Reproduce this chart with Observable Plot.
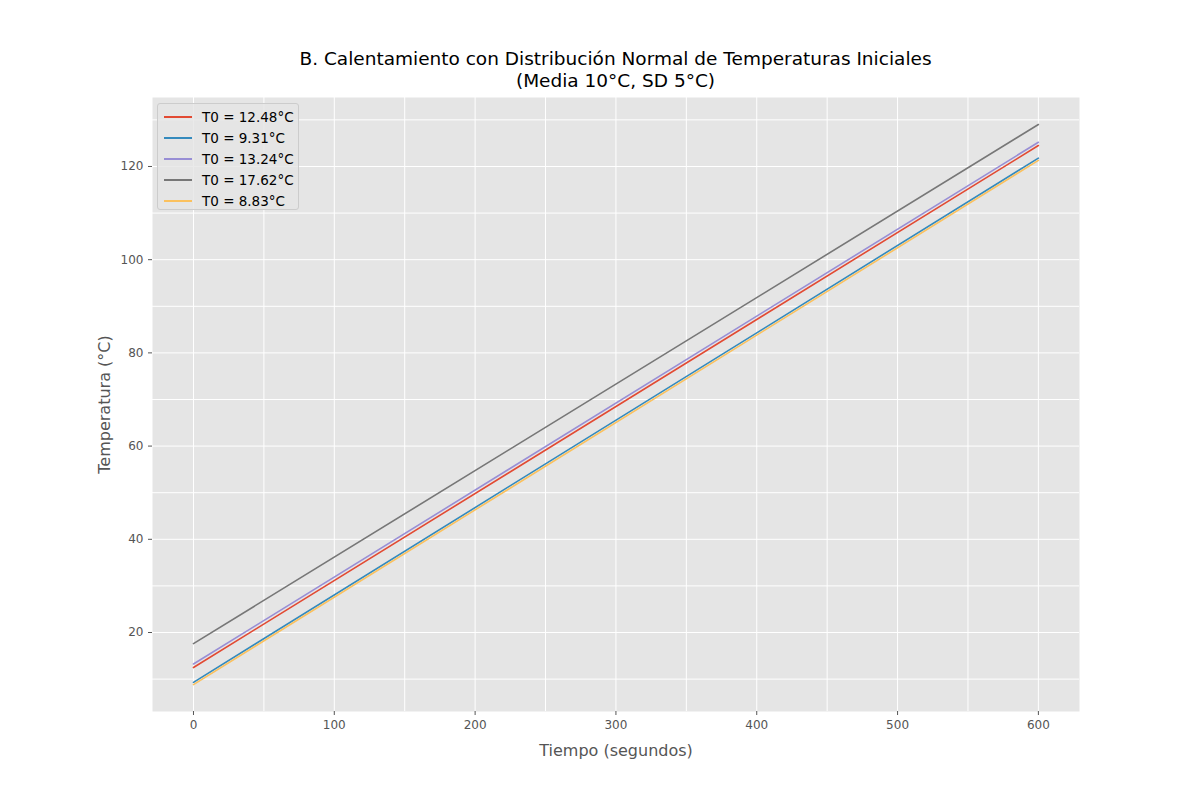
<!DOCTYPE html>
<html><head><meta charset="utf-8">
<script src="https://cdn.jsdelivr.net/npm/d3@7"></script>
<script src="https://cdn.jsdelivr.net/npm/@observablehq/plot@0.6"></script>
<style>
body{margin:0;background:#fff;font-family:"DejaVu Sans",sans-serif;}
#wrap{position:relative;width:1200px;height:800px;}
#title{position:absolute;left:152px;width:927px;top:48px;text-align:center;font-size:18.5px;line-height:22px;color:#000;}
#chart{position:absolute;left:0;top:97px;}
#legend{position:absolute;left:157px;top:103px;width:142px;height:107px;background:rgba(229,229,229,0.8);border:1px solid #ccc;border-radius:3px;box-sizing:border-box;font-size:13.5px;padding-top:3px;}
.li{height:20.8px;display:flex;align-items:center;}
.sw{width:28px;height:2px;margin-left:6px;margin-right:10px;}
</style></head><body>
<div id="wrap">
<div id="title">B. Calentamiento con Distribución Normal de Temperaturas Iniciales<br>(Media 10°C, SD 5°C)</div>
<div id="chart"></div>
<div id="legend"></div>
</div>
<script>
const labels = ["T0 = 12.48°C","T0 = 9.31°C","T0 = 13.24°C","T0 = 17.62°C","T0 = 8.83°C"];
const colors = ["#E24A33","#348ABD","#988ED5","#777777","#FBC15E"];
const times = [0, 600];
const startVals = [12.48, 9.31, 13.24, 17.62, 8.83];
const endVals = [124.5, 121.8, 125.2, 129.0, 121.3];

const data = [];
labels.forEach((l,i)=>{ data.push({s:l,t:times[0],v:startVals[i]}); data.push({s:l,t:times[1],v:endVals[i]}); });

const plot = Plot.plot({
  width:1200, height:703,
  marginTop:0, marginBottom:89, marginLeft:152, marginRight:121,
  x:{domain:[-29.1,629.2], ticks:[0,100,200,300,400,500,600], label:"Tiempo (segundos)", labelAnchor:"center", labelOffset:44, tickSize:4},
  y:{domain:[3.05,134.8], ticks:[20,40,60,80,100,120], label:"Temperatura (°C)", labelAnchor:"center", labelOffset:60, tickSize:4},
  color:{domain:labels, range:colors},
  style:{fontFamily:"DejaVu Sans", fontSize:"12px", color:"#555"},
  marks:[
    Plot.frame({fill:"#e5e5e5", stroke:null}),
    Plot.gridX({stroke:"#fff", strokeOpacity:1, strokeWidth:1}),
    Plot.gridY({stroke:"#fff", strokeOpacity:1, strokeWidth:1}),
    Plot.axisX({ticks:[0,100,200,300,400,500,600], tickSize:4, stroke:"#555", fill:"#555", fontSize:12, label:"Tiempo (segundos)", labelAnchor:"center", labelArrow:"none", labelOffset:44}),
    Plot.axisY({ticks:[20,40,60,80,100,120], tickSize:4, stroke:"#555", fill:"#555", fontSize:12, label:"Temperatura (°C)", labelAnchor:"center", labelArrow:"none", labelOffset:54}),
    Plot.line(data,{x:"t",y:"v",z:"s",stroke:"s",strokeWidth:1.6})
  ]
});
plot.querySelectorAll('[aria-label="x-axis label"] text, [aria-label="y-axis label"] text').forEach(t=>{t.style.fontSize="16px";});
document.getElementById("chart").appendChild(plot);
const lg=document.getElementById("legend");
labels.forEach((l,i)=>{const d=document.createElement("div");d.className="li";d.innerHTML=`<span class="sw" style="background:${colors[i]}"></span><span>${l}</span>`;lg.appendChild(d);});
</script>
</body></html>
